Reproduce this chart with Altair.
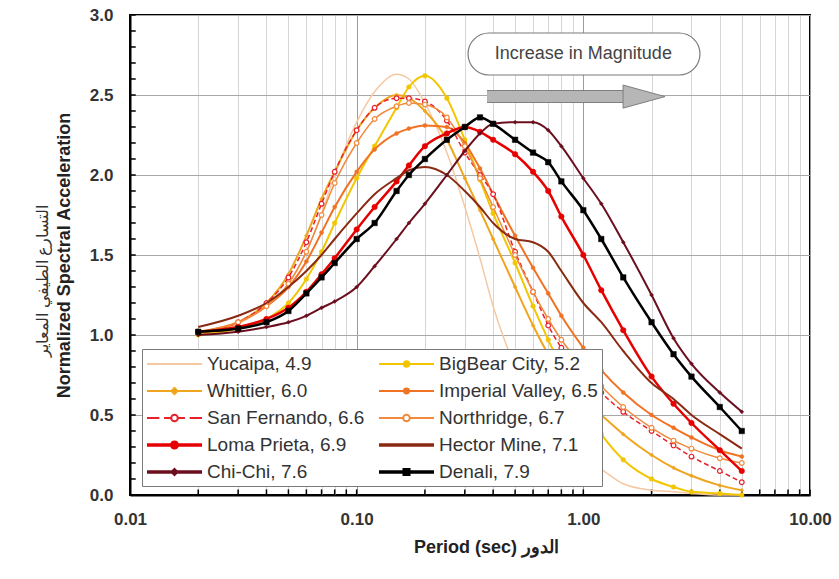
import altair as alt
import pandas as pd

# ---------------- data ----------------
periods = [0.02, 0.03, 0.04, 0.05, 0.06, 0.07, 0.08, 0.10, 0.12, 0.15, 0.17, 0.20,
           0.25, 0.30, 0.35, 0.40, 0.50, 0.60, 0.70, 0.80, 1.00, 1.20, 1.50, 2.00,
           2.50, 3.00, 4.00, 5.00]

series_names = ["Yucaipa, 4.9", "BigBear City, 5.2", "Whittier, 6.0",
                "Imperial Valley, 6.5", "San Fernando, 6.6", "Northridge, 6.7",
                "Loma Prieta, 6.9", "Hector Mine, 7.1", "Chi-Chi, 7.6", "Denali, 7.9"]

# legend is filled column by column: left column first, then right column
legend_order = ["Yucaipa, 4.9", "Whittier, 6.0", "San Fernando, 6.6", "Loma Prieta, 6.9",
                "Chi-Chi, 7.6", "BigBear City, 5.2", "Imperial Valley, 6.5",
                "Northridge, 6.7", "Hector Mine, 7.1", "Denali, 7.9"]

yucaipa = [1.00, 1.07, 1.18, 1.32, 1.52, 1.76, 2.00, 2.33, 2.52, 2.63, 2.60, 2.45,
           2.14, 1.80, 1.48, 1.18, 0.80, 0.56, 0.41, 0.31, 0.22, 0.16, 0.07, 0.03,
           0.02, 0.01, 0.00, 0.00]
bigbear = [1.00, 1.04, 1.10, 1.20, 1.35, 1.52, 1.70, 1.98, 2.18, 2.42, 2.55, 2.62,
           2.48, 2.22, 1.97, 1.76, 1.45, 1.18, 0.97, 0.80, 0.55, 0.38, 0.22, 0.10,
           0.05, 0.02, 0.01, 0.00]
whittier = [1.00, 1.08, 1.20, 1.38, 1.62, 1.85, 2.02, 2.28, 2.42, 2.50, 2.48, 2.40,
            2.22, 1.98, 1.78, 1.60, 1.30, 1.06, 0.88, 0.76, 0.60, 0.50, 0.38, 0.25,
            0.17, 0.12, 0.06, 0.03]
imperial = [1.02, 1.08, 1.18, 1.30, 1.46, 1.64, 1.80, 2.02, 2.16, 2.26, 2.29, 2.31,
            2.30, 2.20, 2.04, 1.88, 1.62, 1.42, 1.26, 1.12, 0.92, 0.78, 0.64, 0.50,
            0.42, 0.36, 0.28, 0.24]
san_fernando = [1.02, 1.08, 1.20, 1.36, 1.58, 1.82, 2.02, 2.28, 2.42, 2.48, 2.48, 2.46,
                2.34, 2.14, 2.00, 1.88, 1.52, 1.27, 1.06, 0.92, 0.76, 0.64, 0.52, 0.40,
                0.31, 0.24, 0.15, 0.08]
northridge = [1.02, 1.08, 1.18, 1.32, 1.52, 1.75, 1.95, 2.20, 2.35, 2.43, 2.45, 2.44,
              2.36, 2.18, 1.98, 1.80, 1.50, 1.27, 1.10, 0.97, 0.80, 0.68, 0.55, 0.42,
              0.34, 0.29, 0.23, 0.20]
loma_prieta = [1.02, 1.05, 1.10, 1.17, 1.27, 1.38, 1.48, 1.66, 1.80, 1.96, 2.06, 2.18,
               2.26, 2.30, 2.27, 2.22, 2.13, 2.02, 1.90, 1.74, 1.50, 1.28, 1.03, 0.74,
               0.57, 0.45, 0.28, 0.15]
hector_mine = [1.05, 1.12, 1.20, 1.30, 1.40, 1.50, 1.60, 1.76, 1.88, 1.98, 2.03, 2.05,
               2.00, 1.90, 1.80, 1.70, 1.60, 1.58, 1.52, 1.40, 1.20, 1.08, 0.90, 0.70,
               0.60, 0.50, 0.38, 0.29]
chi_chi = [1.00, 1.02, 1.05, 1.08, 1.12, 1.17, 1.21, 1.30, 1.43, 1.60, 1.70, 1.82,
           2.00, 2.15, 2.26, 2.32, 2.33, 2.33, 2.28, 2.18, 1.98, 1.82, 1.58, 1.25,
           0.98, 0.82, 0.64, 0.52]
denali = [1.02, 1.04, 1.08, 1.15, 1.26, 1.36, 1.45, 1.60, 1.70, 1.90, 2.00, 2.10,
          2.22, 2.30, 2.36, 2.32, 2.22, 2.14, 2.08, 1.96, 1.78, 1.60, 1.36, 1.08,
          0.88, 0.74, 0.55, 0.40]

series_values = [yucaipa, bigbear, whittier, imperial, san_fernando, northridge,
                 loma_prieta, hector_mine, chi_chi, denali]

x_tick_values = [0.01, 0.02, 0.03, 0.04, 0.05, 0.06, 0.07, 0.08, 0.09,
                 0.1, 0.2, 0.3, 0.4, 0.5, 0.6, 0.7, 0.8, 0.9,
                 1, 2, 3, 4, 5, 6, 7, 8, 9, 10]
y_tick_values = [0.0, 0.1, 0.2, 0.3, 0.4, 0.5, 0.6, 0.7, 0.8, 0.9, 1.0, 1.1, 1.2,
                 1.3, 1.4, 1.5, 1.6, 1.7, 1.8, 1.9, 2.0, 2.1, 2.2, 2.3, 2.4, 2.5,
                 2.6, 2.7, 2.8, 2.9, 3.0]

y_title_en = "Normalized Spectral Acceleration"
y_title_ar = "التسارع الطيفي المعاير"
x_title = "Period (sec)      الدور"

annotation_text = ["Increase in Magnitude"]
annotation_box_period = [0.31, 3.27]
annotation_box_value = [2.625, 2.8875]
annotation_text_pos = [1.0, 2.756]
arrow_shaft_period = [0.376, 1.60]
arrow_value = [2.49]
arrow_head_period = [1.853]

# inward tick marks: extent into the plot, in data units
x_tick_reach = [0.0, 0.035]
y_tick_reach = [0.01, 0.0106]

# ---------------- styles ----------------
colors = ["#f6c8a2", "#f2c600", "#f0a51e", "#f07324", "#e8202a", "#f08a3c",
          "#e60000", "#8a2a12", "#6b0f1e", "#000000"]
line_widths = [1.5, 2, 2, 2, 1.5, 1.5, 2.5, 2, 2, 2.5]
dash_styles = [None, None, None, None, [5, 3], None, None, None, None, None]
marker_shapes = [None, "circle", "diamond", "circle", "circle", "circle", "circle",
                 None, "diamond", "square"]
marker_sizes = [0, 22, 16, 16, 22, 22, 30, 0, 16, 30]
marker_open = [False, False, False, False, True, True, False, False, False, False]

FONT = "Liberation Sans"

# legend symbol geometry: symbol box is 20 px (size 400) -> 1 unit = 10 px;
# the drawn sample spans 55 px starting at the entry's left edge.
U_SCALE = 2.75
U_SHIFT = 1.75


def px(v):
    return round(v * U_SCALE + U_SHIFT, 3)


def seg(a, b, dy=0.0):
    return f"M{px(a)},{dy}L{px(b)},{dy}"


def circ(r):
    r2 = round(r * U_SCALE, 3)
    c = px(0)
    return f"M{c - r2},0A{r2},{r2} 0 1,0 {c + r2},0A{r2},{r2} 0 1,0 {c - r2},0"


def sq(h):
    h2 = round(h * U_SCALE, 3)
    c = px(0)
    return f"M{c - h2},{-h2}L{c + h2},{-h2}L{c + h2},{h2}L{c - h2},{h2}Z"


def dia(h):
    h2 = round(h * U_SCALE, 3)
    c = px(0)
    return f"M{c},{-h2}L{c + h2},0L{c},{h2}L{c - h2},0Z"


LINE = seg(-1, 1)
THICK = seg(-1, 1, -0.08) + seg(-1, 1, 0.08) + seg(-1, 1)
path_by_series = {
    "Yucaipa, 4.9": LINE,
    "BigBear City, 5.2": LINE + circ(0.1) + circ(0.04),
    "Whittier, 6.0": LINE + dia(0.11) + dia(0.05),
    "Imperial Valley, 6.5": LINE + circ(0.09) + circ(0.04),
    "San Fernando, 6.6": seg(-1, -0.55) + seg(-0.38, -0.14) + seg(0.14, 0.38)
    + seg(0.55, 1) + circ(0.12),
    "Northridge, 6.7": seg(-1, -0.14) + seg(0.14, 1) + circ(0.12),
    "Loma Prieta, 6.9": THICK + circ(0.13) + circ(0.06),
    "Hector Mine, 7.1": THICK,
    "Chi-Chi, 7.6": THICK + dia(0.11) + dia(0.05),
    "Denali, 7.9": THICK + sq(0.11) + sq(0.05),
}
color_by_series = dict(zip(series_names, colors))
legend_colors = [color_by_series[s] for s in legend_order]
legend_paths = [path_by_series[s] for s in legend_order]

rows = []
for name, vals in zip(series_names, series_values):
    for t, v in zip(periods, vals):
        rows.append({"series": name, "period": t, "sa": v})
df = pd.DataFrame(rows)

x_scale = alt.Scale(type="log", domain=[0.01, 10], nice=False)
y_scale = alt.Scale(domain=[0, 3], nice=False, zero=False)

decade_test = "abs(log(datum.value)/LN10 - round(log(datum.value)/LN10)) < 1e-6"
half_test = "abs(datum.value*2 - round(datum.value*2)) < 1e-6"

x_axis = alt.Axis(
    values=x_tick_values,
    labelExpr=f"{decade_test} ? format(datum.value, '.2f') : ''",
    title=x_title,
    grid=True,
    gridColor={"condition": {"test": decade_test, "value": "#9c9c9c"}, "value": "#d6d6d6"},
    gridWidth=1,
    ticks=False,
    tickSize=0,
    labelPadding=16,
    titlePadding=11,
    titleX=356,
    labelOverlap=False,
    labelFlush=False,
)
y_axis = alt.Axis(
    values=y_tick_values,
    labelExpr=f"{half_test} ? format(datum.value, '.1f') : ''",
    title=y_title_en,
    grid=True,
    gridColor="#a8a8a8",
    gridOpacity={"condition": {"test": half_test, "value": 1}, "value": 0},
    gridWidth=1,
    ticks=False,
    tickSize=0,
    labelPadding=17,
    titlePadding=16,
    labelOverlap=False,
    labelFlush=False,
)

X = alt.X("period:Q", scale=x_scale, axis=x_axis)
Y = alt.Y("sa:Q", scale=y_scale, axis=y_axis)

layers = []

# inward ticks on the left and bottom frame
xt_df = pd.DataFrame({"t": x_tick_values})
yt_df = pd.DataFrame({"v": y_tick_values})
layers.append(alt.Chart(xt_df).mark_rule(color="black", strokeWidth=1.5).encode(
    x=alt.X("t:Q", scale=x_scale, axis=x_axis),
    y=alt.datum(x_tick_reach[0], scale=y_scale, axis=y_axis),
    y2=alt.datum(x_tick_reach[1])))
layers.append(alt.Chart(yt_df).mark_rule(color="black", strokeWidth=1.5).encode(
    y=alt.Y("v:Q", scale=y_scale, axis=y_axis),
    x=alt.datum(y_tick_reach[0], scale=x_scale, axis=x_axis),
    x2=alt.datum(y_tick_reach[1])))

# annotation: pill box, text, arrow
ann_df = pd.DataFrame({"x0": [annotation_box_period[0]], "x1": [annotation_box_period[1]],
                       "y0": [annotation_box_value[0]], "y1": [annotation_box_value[1]],
                       "tx": [annotation_text_pos[0]], "ty": [annotation_text_pos[1]],
                       "label": annotation_text,
                       "a0": [arrow_shaft_period[0]], "a1": [arrow_shaft_period[1]],
                       "ay": arrow_value, "ah": arrow_head_period})
ann = alt.Chart(ann_df)
layers.append(ann.mark_rect(fill="white", stroke="#7a7a7a", strokeWidth=1.2,
                            cornerRadius=21).encode(
    x=alt.X("x0:Q", scale=x_scale, axis=x_axis), x2="x1:Q",
    y=alt.Y("y0:Q", scale=y_scale, axis=y_axis), y2="y1:Q"))
layers.append(ann.mark_text(font=FONT, fontSize=18, color="#444444").encode(
    x=alt.X("tx:Q", scale=x_scale, axis=x_axis),
    y=alt.Y("ty:Q", scale=y_scale, axis=y_axis), text="label:N"))
layers.append(ann.mark_rule(color="#7f7f7f", strokeWidth=13, strokeCap="butt").encode(
    x=alt.X("a0:Q", scale=x_scale, axis=x_axis), x2="a1:Q",
    y=alt.Y("ay:Q", scale=y_scale, axis=y_axis)))
layers.append(ann.mark_rule(color="#b6b6b6", strokeWidth=11, strokeCap="butt").encode(
    x=alt.X("a0:Q", scale=x_scale, axis=x_axis), x2="a1:Q",
    y=alt.Y("ay:Q", scale=y_scale, axis=y_axis)))
layers.append(ann.mark_point(shape="M-1,-0.55L1,0L-1,0.55Z", size=1764, filled=True,
                             fill="#b6b6b6", stroke="#7f7f7f", strokeWidth=1,
                             opacity=1).encode(
    x=alt.X("ah:Q", scale=x_scale, axis=x_axis),
    y=alt.Y("ay:Q", scale=y_scale, axis=y_axis)))

# curves
for i, name in enumerate(series_names):
    base = alt.Chart(df).transform_filter(alt.datum.series == name)
    lkw = dict(color=colors[i], strokeWidth=line_widths[i], interpolate="monotone")
    if dash_styles[i]:
        lkw["strokeDash"] = dash_styles[i]
    layers.append(base.mark_line(**lkw).encode(x=X, y=Y))
    if marker_shapes[i]:
        if marker_open[i]:
            pkw = dict(filled=True, fill="white", stroke=colors[i], strokeWidth=1.2)
        else:
            pkw = dict(filled=True, fill=colors[i], stroke=colors[i], strokeWidth=0.5)
        layers.append(base.mark_point(shape=marker_shapes[i], size=marker_sizes[i],
                                      opacity=1, **pkw).encode(x=X, y=Y))

# legend layer (no marks drawn, only the legend)
legend_props = dict(
    title=None, orient="none", legendX=12, legendY=334, columns=2,
    fillColor="white", strokeColor="#7a7a7a", padding=4,
    columnPadding=10, rowPadding=6, labelFont=FONT, labelFontSize=19,
    labelColor="#333333", labelLimit=300, labelOffset=39,
    symbolSize=400, symbolStrokeWidth=2, symbolOpacity=1, zindex=1,
)
layers.append(
    alt.Chart(df).transform_filter("false").mark_point(filled=False, opacity=1).encode(
        x=X, y=Y,
        color=alt.Color("series:N", scale=alt.Scale(domain=legend_order, range=legend_colors),
                        legend=alt.Legend(**legend_props)),
        shape=alt.Shape("series:N", scale=alt.Scale(domain=legend_order, range=legend_paths),
                        legend=alt.Legend(**legend_props)),
    )
)

chart = alt.layer(*layers).properties(
    width=680, height=480,
    padding={"left": 130, "top": 15, "right": 29, "bottom": 84},
    autosize=alt.AutoSizeParams(type="none"),
    background="white",
    title=alt.TitleParams(text=y_title_ar, orient="left", frame="bounds", anchor="middle",
                          offset=4, font=FONT, fontSize=16, fontWeight="normal",
                          color="#333333"),
).configure_view(
    stroke="black", strokeWidth=2
).configure_axis(
    domainColor="black", domainWidth=2,
    labelFont=FONT, labelFontSize=17, labelFontWeight="bold", labelColor="#333333",
    titleFont=FONT, titleFontSize=18, titleFontWeight="bold", titleColor="#222222",
)

chart.save("out.html", embed_options={"renderer": "svg", "actions": False})
